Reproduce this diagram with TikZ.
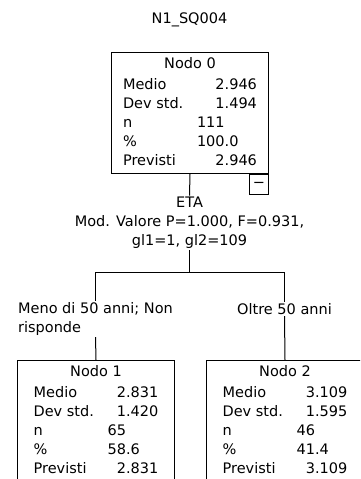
\documentclass[tikz,border=0pt]{standalone}
\usepackage{fontspec}
\setmainfont{DejaVu Sans}
\usetikzlibrary{positioning}
% one box of the tree: title and the five statistics, decimal points in line
\newcommand\tabnodo[8]{%
  \begin{tabular}{@{}p{74pt}@{}r@{}l@{}}
    \multicolumn{3}{c}{Nodo #1}\\[2pt]
    Medio & #2 & #3\\
    Dev std. & #4 & #5\\
    n & #6 & \\
    \% & #7 & #8\\
    Previsti & #2 & #3
  \end{tabular}}

\begin{document}
\begin{tikzpicture}[
  x=1pt,y=-1pt,
  font=\fontsize{14.5pt}{19pt}\selectfont,
  line width=1pt,
  nodo/.style={draw,line width=1pt,minimum width=157pt,minimum height=121pt,
               inner sep=0pt,anchor=north west},
  comprimi/.style={draw,line width=1pt,minimum width=19pt,minimum height=20pt,
                   inner sep=0pt,anchor=north east},
  etichetta/.style={inner sep=1pt,align=center}
]
\useasboundingbox (0,0) rectangle (360,479);
\fill[white] (0,0) rectangle (360,479);
\clip (0,0) rectangle (360,479);
\node (titolo) at (189.5,20) {N1\_SQ004};
\node[nodo] (nodo0) at (111,52) {\tabnodo{0}{2}{.946}{1}{.494}{111}{100}{.0}};
\node[comprimi] (meno0) at (nodo0.south east) {−};
\node[etichetta] (eta) at (189.5,223) {ETA\\Mod. Valore P=1.000, F=0.931,\\gl1=1, gl2=109};
\coordinate (split) at ([yshift=-22pt]eta.south);
\node[etichetta,align=left] (ramo1) at (95.5,319) {Meno di 50 anni; Non\\risponde};
\node[etichetta] (ramo2) at (284.5,309) {Oltre 50 anni};
\node[nodo] (nodo1) at (17,360) {\tabnodo{1}{2}{.831}{1}{.420}{65}{58}{.6}};
\node[nodo] (nodo2) at (206,360) {\tabnodo{2}{3}{.109}{1}{.595}{46}{41}{.4}};
\draw (nodo0.south) -- (eta.north);
\draw (eta.south) -- (split);
\draw (ramo1.north) |- (split) -| (ramo2.north);
\draw (ramo1.south) -- (nodo1.north);
\draw (ramo2.south) -- (nodo2.north);
\end{tikzpicture}
\end{document}
